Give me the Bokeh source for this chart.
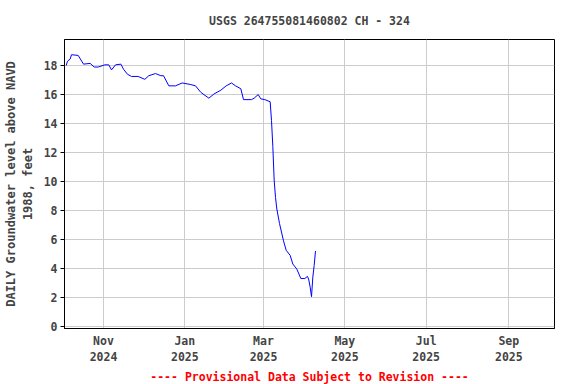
import datetime as dt
from bokeh.plotting import figure
from bokeh.models import Range1d, FixedTicker, Title, DatetimeTickFormatter
from bokeh.embed import file_html
from bokeh.resources import INLINE

# ---- data ----
dates = [
    "2024-10-04", "2024-10-05", "2024-10-07", "2024-10-08", "2024-10-13", "2024-10-17",
    "2024-10-22", "2024-10-25", "2024-10-28", "2024-11-02", "2024-11-05", "2024-11-07",
    "2024-11-10", "2024-11-14", "2024-11-16", "2024-11-19", "2024-11-22", "2024-11-27",
    "2024-12-02", "2024-12-05", "2024-12-10", "2024-12-14", "2024-12-16", "2024-12-20",
    "2024-12-25", "2024-12-30", "2025-01-05", "2025-01-09", "2025-01-13", "2025-01-19",
    "2025-01-23", "2025-01-28", "2025-02-01", "2025-02-05", "2025-02-08", "2025-02-12",
    "2025-02-14", "2025-02-20", "2025-02-22", "2025-02-25", "2025-02-27", "2025-03-02",
    "2025-03-06", "2025-03-07", "2025-03-08", "2025-03-09", "2025-03-10", "2025-03-11",
    "2025-03-13", "2025-03-16", "2025-03-18", "2025-03-21", "2025-03-23", "2025-03-26",
    "2025-03-29", "2025-04-01", "2025-04-03", "2025-04-04", "2025-04-05", "2025-04-06",
    "2025-04-07", "2025-04-08", "2025-04-09",
]
levels = [
    18.0, 18.3, 18.45, 18.75, 18.7, 18.1,
    18.15, 17.9, 17.9, 18.05, 18.05, 17.7,
    18.05, 18.1, 17.75, 17.4, 17.25, 17.25,
    17.05, 17.3, 17.45, 17.3, 17.3, 16.6,
    16.6, 16.8, 16.7, 16.6, 16.15, 15.75,
    16.05, 16.3, 16.6, 16.8, 16.6, 16.4,
    15.65, 15.65, 15.75, 16.0, 15.7, 15.65,
    15.5, 14.2, 12.4, 10.1, 8.9, 8.1,
    7.1, 5.9, 5.25, 4.9, 4.3, 3.95,
    3.3, 3.3, 3.45, 3.2, 2.7, 2.05,
    3.4, 4.2, 5.2,
]
tick_dates = ["2024-11-01", "2025-01-01", "2025-03-01", "2025-05-01", "2025-07-01", "2025-09-01"]
y_ticks = [0, 2, 4, 6, 8, 10, 12, 14, 16, 18]

title_text = "USGS 264755081460802 CH - 324"
y_label = "DAILY Groundwater level above NAVD\n1988, feet"
footer_text = "---- Provisional Data Subject to Revision ----"

x = [dt.datetime.fromisoformat(d) for d in dates]
epoch = dt.datetime(1970, 1, 1)
tick_ms = [(dt.datetime.fromisoformat(d) - epoch).total_seconds() * 1000 for d in tick_dates]

FONT = "DejaVu Sans Mono"

p = figure(
    width=576, height=384,
    x_axis_type="datetime",
    output_backend="svg", toolbar_location=None,
    x_range=Range1d(dt.datetime(2024, 10, 2, 18), dt.datetime(2025, 10, 5, 6)),
    y_range=Range1d(-0.15, 19.8),
    min_border_left=64, min_border_right=22, min_border_top=39, min_border_bottom=56,
)
p.title.text = title_text
p.title.align = "center"
p.title.text_font = FONT
p.title.text_font_style = "bold"
p.title.text_font_size = "11.5px"
p.title.standoff = 23

p.line(x, levels, line_color="blue", line_width=1)

p.xaxis.ticker = FixedTicker(ticks=tick_ms)
p.xaxis.formatter = DatetimeTickFormatter(days="%b\n%Y", months="%b\n%Y", years="%b\n%Y",
                                          hours="%b\n%Y", context=None)
p.yaxis.ticker = FixedTicker(ticks=y_ticks)
p.yaxis.axis_label = y_label

for ax in (p.xaxis, p.yaxis):
    ax.major_label_text_font = FONT
    ax.major_label_text_font_style = "bold"
    ax.major_label_text_font_size = "11.5px"
    ax.minor_tick_line_color = None
    ax.axis_line_color = "black"
    ax.major_tick_line_color = "black"
    ax.major_tick_in = 0
    ax.major_tick_out = 4
p.xaxis.major_tick_line_color = None
p.xaxis.major_tick_out = 0
p.xaxis.major_label_standoff = 5
p.yaxis.major_label_standoff = 3
p.yaxis.axis_label_text_font = FONT
p.yaxis.axis_label_text_font_style = "bold"
p.yaxis.axis_label_text_font_size = "12px"
p.yaxis.axis_label_standoff = 6

p.grid.grid_line_color = "#cccccc"
p.grid.grid_line_width = 1
p.outline_line_color = "black"
p.outline_line_width = 1

footer = Title(text=footer_text, align="center", text_color="red", standoff=0,
               text_font=FONT, text_font_style="bold", text_font_size="11.5px")
p.add_layout(footer, "below")

open("out.html", "w").write(file_html(p, INLINE))
